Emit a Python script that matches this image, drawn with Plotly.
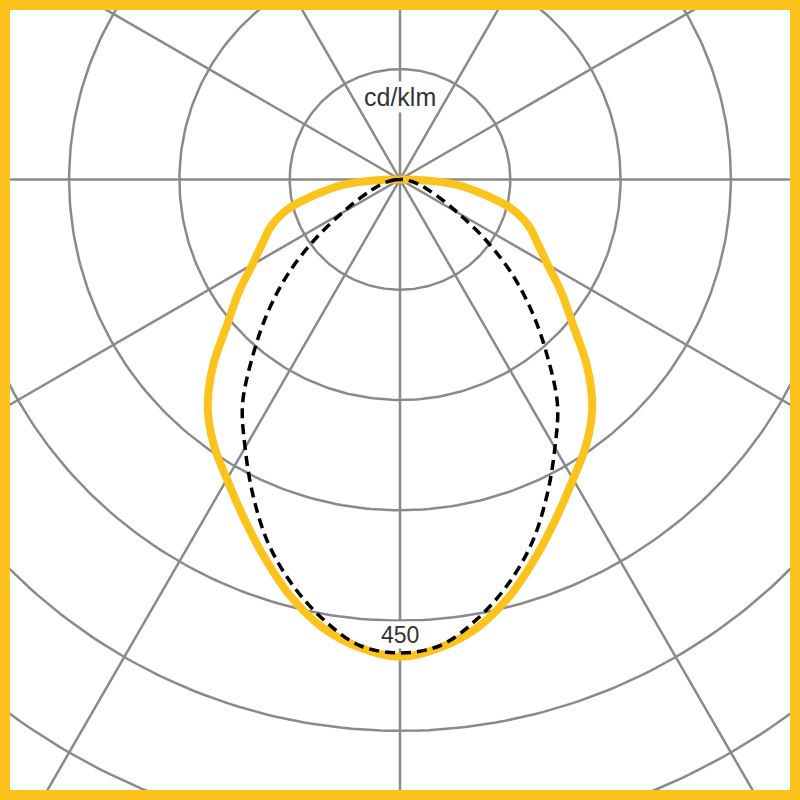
import numpy as np
import plotly.graph_objects as go

# gamma angle from nadir (deg), intensity in cd/klm
angles = [0, 5, 10, 15, 20, 25, 30, 35, 40, 45, 50, 55, 60, 65, 70, 75, 80, 85, 90]
c0_c180 = [487, 479, 463, 438, 408, 379, 353, 331, 305, 270, 230, 201, 174, 155, 140, 119, 86, 55, 0]
c90_c270 = [483, 477, 455, 427, 394, 355, 316, 280, 233, 190, 148, 105, 68, 45, 30, 20, 12, 5, 0]

grid_step = 112.5
grid_rings = 7
spoke_step = 30
unit_label = "cd/klm"
ring_label = "450"

YELLOW = "#FBC31C"
GRID = "#8a8a8a"


def to_xy(gam, r):
    # mirror the half curve to both sides of the nadir line
    g = np.radians(np.concatenate([-np.array(gam[::-1]), np.array(gam[1:])]))
    rr = np.concatenate([np.array(r[::-1]), np.array(r[1:])])
    return rr * np.sin(g), -rr * np.cos(g)


fig = go.Figure()

# rings
t = np.linspace(0, 2 * np.pi, 361)
for k in range(1, grid_rings + 1):
    R = k * grid_step
    fig.add_trace(go.Scatter(x=R * np.cos(t), y=R * np.sin(t), mode="lines",
                             line=dict(color=GRID, width=2.5), hoverinfo="skip"))
# spokes
for a in range(0, 180, spoke_step):
    ar = np.radians(a)
    L = 1200
    fig.add_trace(go.Scatter(x=[-L * np.cos(ar), L * np.cos(ar)], y=[-L * np.sin(ar), L * np.sin(ar)],
                             mode="lines", line=dict(color=GRID, width=2.5), hoverinfo="skip"))

x1, y1 = to_xy(angles, c0_c180)
fig.add_trace(go.Scatter(x=x1, y=y1, mode="lines", line=dict(color=YELLOW, width=8, shape="spline", smoothing=1.0)))
x2, y2 = to_xy(angles, c90_c270)
fig.add_trace(go.Scatter(x=x2, y=y2, mode="lines",
                         line=dict(color="black", width=3.5, dash="10px,6px", shape="spline", smoothing=1.0)))

fig.add_annotation(x=0, y=84, text=unit_label, showarrow=False, bgcolor="white",
                   font=dict(family="Liberation Sans", size=25, color="#333"), borderpad=1)
fig.add_annotation(x=0, y=-465, text=ring_label, showarrow=False, bgcolor="white",
                   font=dict(family="Liberation Sans", size=23, color="#333"), borderpad=0)

# frame
fig.add_shape(type="rect", xref="paper", yref="paper", x0=0.00625, x1=0.99375, y0=0.00625, y1=0.99375,
              line=dict(color=YELLOW, width=10), layer="above")

fig.update_layout(
    width=800, height=800,
    margin=dict(l=0, r=0, t=0, b=0),
    paper_bgcolor="white", plot_bgcolor="white",
    showlegend=False,
    xaxis=dict(range=[-408, 408], visible=False, fixedrange=True),
    yaxis=dict(range=[-633, 183], visible=False, fixedrange=True),
)
fig.write_html("out.html", config={"displayModeBar": False},
               post_script="document.body.style.margin='0';")
